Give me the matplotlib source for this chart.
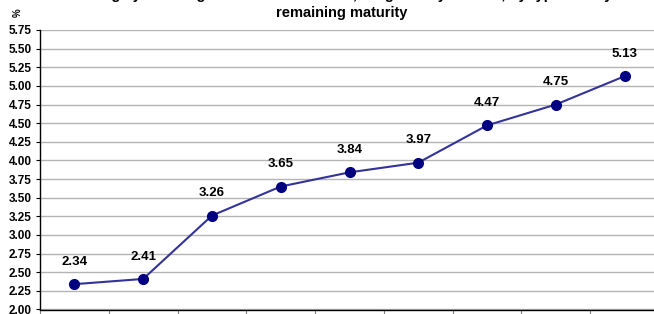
import matplotlib
matplotlib.use("Agg")
import matplotlib.pyplot as plt
import numpy as np

plt.rcParams['font.family'] = ['Liberation Sans', 'DejaVu Sans']

categories = ["1", "2", "3", "4", "5", "6", "7", "8", "9"]
values = [2.34, 2.41, 3.26, 3.65, 3.84, 3.97, 4.47, 4.75, 5.13]
yticks = [2.00, 2.25, 2.50, 2.75, 3.00, 3.25, 3.50, 3.75, 4.00, 4.25, 4.50, 4.75, 5.00, 5.25, 5.50, 5.75]

W, H = 654, 314
fig = plt.figure(figsize=(W / 100, H / 100), dpi=100)
ax = fig.add_axes([40 / W, 1 - 309.5 / H, 619 / W, 279.5 / H])

x = np.arange(len(categories))
ax.plot(x, values, color='#333399', linewidth=1.5, zorder=3, clip_on=False)
ax.plot(x, values, linestyle='none', marker='o', markersize=7,
        markerfacecolor='#000080', markeredgecolor='#000080', zorder=4, clip_on=False)
for xi, v in zip(x, values):
    ax.annotate(f"{v:.2f}", (xi, v), xytext=(0, 16), textcoords='offset points',
                ha='center', va='center', fontsize=9.5, fontweight='bold', color='black')

ax.set_xlim(-0.5, len(categories) - 0.5)
ax.set_ylim(2.0, 5.75)
ax.set_yticks(yticks)
ax.set_yticklabels([f"{t:.2f}" for t in yticks], fontsize=8.5, fontweight='bold')
ax.set_xticks(np.arange(-0.5, len(categories), 1.0))
ax.set_xticklabels([])
ax.tick_params(axis='x', length=4, color='#808080', direction='out')
ax.tick_params(axis='y', length=3, color='black', direction='out', pad=3)

ax.grid(axis='y', color='#b4b4b4', linewidth=1.0)
ax.set_axisbelow(True)
for s in ['top', 'right']:
    ax.spines[s].set_visible(False)
ax.spines['left'].set_color('black')
ax.spines['bottom'].set_color('black')
ax.spines['left'].set_linewidth(1.0)
ax.spines['bottom'].set_linewidth(1.0)

fig.text(342 / W, 1 - 17.5 / H, "remaining maturity", ha='center', va='baseline',
         fontsize=10.5, fontweight='bold')
fig.text(342 / W, 1 + 1.5 / H, "Average yields of government securities, weighted by volume, by type and by",
         ha='center', va='baseline', fontsize=10.5, fontweight='bold')
fig.text(18 / W, 1 - 13 / H, "%", ha='center', va='center', fontsize=7, fontweight='bold', rotation=90)

fig.savefig("out.png", dpi=100)
